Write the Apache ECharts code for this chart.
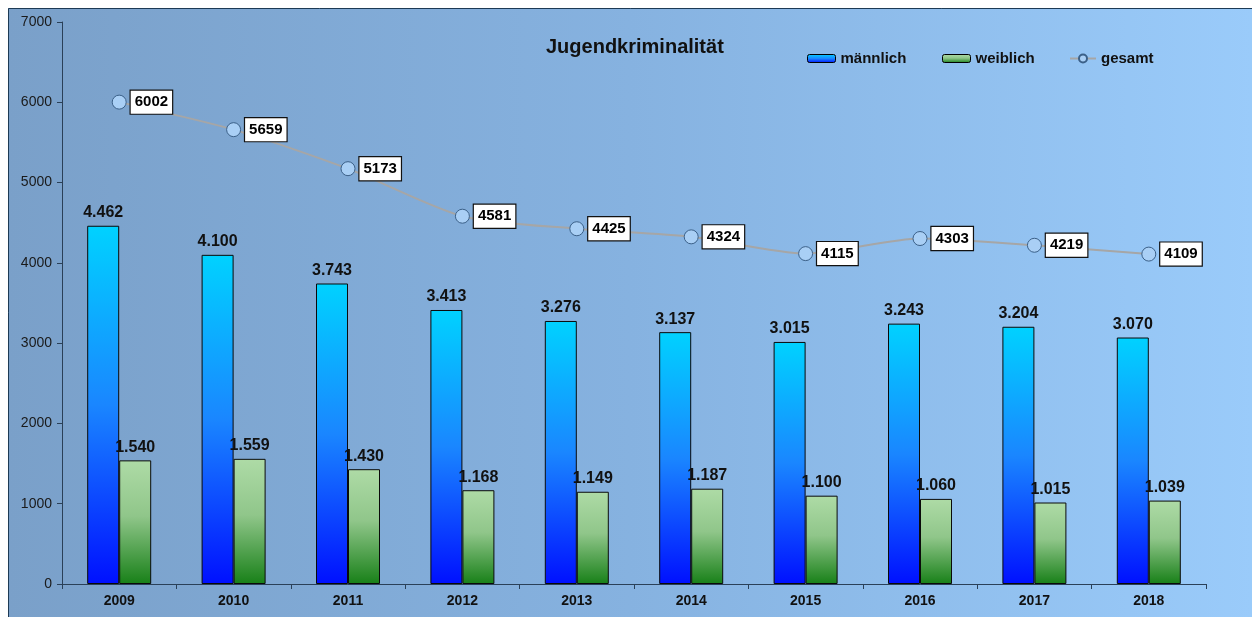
<!DOCTYPE html>
<html>
<head>
<meta charset="utf-8">
<title>Jugendkriminalität</title>
<script src="https://cdn.jsdelivr.net/npm/echarts@6/dist/echarts.min.js"></script>
<style>
  html, body { margin: 0; padding: 0; background: #ffffff; }
  #chart { width: 1252px; height: 617px; }
</style>
</head>
<body>
<div id="chart"></div>
<script>
// Jahre und Fallzahlen
const years = ['2009', '2010', '2011', '2012', '2013', '2014', '2015', '2016', '2017', '2018'];
const maennlich = [4462, 4100, 3743, 3413, 3276, 3137, 3015, 3243, 3204, 3070];
const weiblich = [1540, 1559, 1430, 1168, 1149, 1187, 1100, 1060, 1015, 1039];
const gesamt = [6002, 5659, 5173, 4581, 4425, 4324, 4115, 4303, 4219, 4109];
const yTicks = [0, 1000, 2000, 3000, 4000, 5000, 6000, 7000];

const FONT = '"Liberation Sans", Arial, sans-serif';

// Tausenderpunkt: 4462 -> 4.462
function dePunkt(v) {
  return String(v).replace(/\B(?=(\d{3})+(?!\d))/g, '.');
}

const chart = echarts.init(document.getElementById('chart'), null, { renderer: 'canvas' });

const blueGrad = new echarts.graphic.LinearGradient(0, 0, 0, 1, [
  { offset: 0, color: '#00d2ff' },
  { offset: 0.5, color: '#1a86ff' },
  { offset: 1, color: '#0010ff' }
]);
const greenGrad = new echarts.graphic.LinearGradient(0, 0, 0, 1, [
  { offset: 0, color: '#aedba6' },
  { offset: 0.45, color: '#90c68a' },
  { offset: 1, color: '#188018' }
]);

const legendText = { fontFamily: FONT, fontWeight: 'bold', fontSize: 15, color: '#111' };

chart.setOption({
  animation: false,
  graphic: [
    {
      type: 'rect', z: -100, silent: true,
      shape: { x: 8, y: 8, width: 1244, height: 609 },
      style: {
        fill: new echarts.graphic.LinearGradient(0, 0, 1, 0, [
          { offset: 0, color: '#7aa0c9' },
          { offset: 0.5, color: '#86b2e0' },
          { offset: 1, color: '#9acbfa' }
        ])
      }
    },
    {
      type: 'polyline', z: -99, silent: true,
      shape: { points: [[8.5, 617], [8.5, 8.5], [1252, 8.5]] },
      style: { stroke: '#1d3a55', lineWidth: 1, fill: null }
    }
  ],
  title: {
    text: 'Jugendkriminalität',
    left: 541, top: 32,
    textStyle: { fontFamily: FONT, fontWeight: 'bold', fontSize: 20, color: '#111' }
  },
  legend: [
    {
      data: [{ name: 'männlich', icon: 'roundRect' }],
      left: 802, top: 46, itemWidth: 28, itemHeight: 8, itemGap: 0,
      textStyle: legendText,
      itemStyle: { borderColor: '#000', borderWidth: 1 }
    },
    {
      data: [{ name: 'weiblich', icon: 'roundRect' }],
      left: 937, top: 46, itemWidth: 28, itemHeight: 8, itemGap: 0,
      textStyle: legendText,
      itemStyle: { borderColor: '#000', borderWidth: 1 }
    },
    {
      data: ['gesamt'],
      left: 1064, top: 46, itemWidth: 26, itemHeight: 10, itemGap: 0,
      textStyle: legendText
    }
  ],
  grid: { left: 62, right: 46, top: 22, bottom: 33, containLabel: false },
  xAxis: {
    type: 'category',
    data: years,
    axisLine: { lineStyle: { color: '#2a4058', width: 1 } },
    axisTick: { show: true, length: 5, alignWithLabel: false, lineStyle: { color: '#2a4058' } },
    axisLabel: { fontFamily: FONT, fontWeight: 'bold', fontSize: 14, color: '#111', margin: 10 }
  },
  yAxis: {
    type: 'value',
    min: yTicks[0], max: yTicks[yTicks.length - 1], interval: 1000,
    splitLine: { show: false },
    axisLine: { show: true, lineStyle: { color: '#2a4058', width: 1 } },
    axisTick: { show: true, length: 5, lineStyle: { color: '#2a4058' } },
    axisLabel: {
      fontFamily: FONT, fontSize: 14, color: '#1a1a1a', margin: 10,
      formatter: v => String(v)
    }
  },
  series: [
    {
      name: 'männlich',
      type: 'bar',
      data: maennlich,
      barWidth: 32,
      barGap: '0%',
      itemStyle: { color: blueGrad, borderColor: '#0a0a0a', borderWidth: 1 },
      label: {
        show: true, position: 'top', distance: 5,
        formatter: p => dePunkt(p.value),
        fontFamily: FONT, fontWeight: 'bold', fontSize: 16, color: '#111'
      },
      z: 2
    },
    {
      name: 'weiblich',
      type: 'bar',
      data: weiblich,
      barWidth: 32,
      barGap: '0%',
      itemStyle: { color: greenGrad, borderColor: '#0a0a0a', borderWidth: 1 },
      label: {
        show: true, position: 'top', distance: 5,
        formatter: p => dePunkt(p.value),
        fontFamily: FONT, fontWeight: 'bold', fontSize: 16, color: '#111'
      },
      z: 2
    },
    {
      name: 'gesamt',
      type: 'line',
      data: gesamt,
      smooth: 0.25,
      symbol: 'circle',
      symbolSize: 14,
      lineStyle: { color: '#a6a6a6', width: 2 },
      itemStyle: { color: '#a9cff5', borderColor: '#3b6088', borderWidth: 1 },
      label: {
        show: true, position: 'right', distance: 4,
        fontFamily: FONT, fontWeight: 'bold', fontSize: 15, color: '#000',
        backgroundColor: '#ffffff', borderColor: '#111', borderWidth: 1.2,
        padding: [5, 4, 3, 4]
      },
      z: 5
    }
  ]
});
</script>
</body>
</html>
